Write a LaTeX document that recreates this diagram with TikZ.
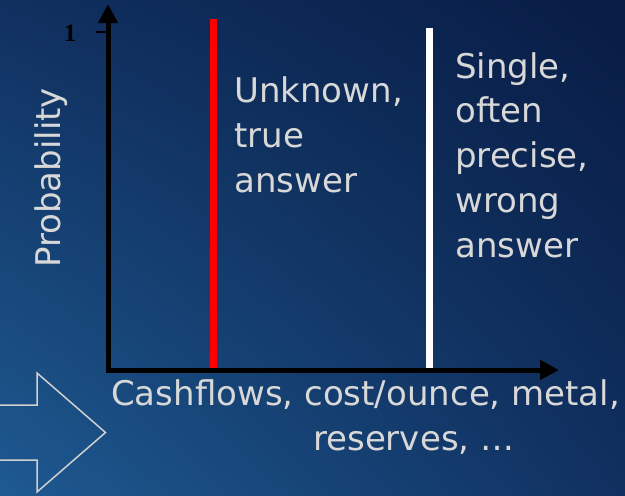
\documentclass[tikz,border=0pt]{standalone}
\usepackage{fontspec}
\setmainfont{DejaVu Sans}
\newfontfamily\tickfont{Liberation Serif}
\usetikzlibrary{arrows.meta,shadings}
\definecolor{navydark}{RGB}{8,28,68}
\definecolor{navymid}{RGB}{16,48,96}
\definecolor{navylight}{RGB}{30,90,145}
\definecolor{labelgrey}{RGB}{216,216,216}
\definecolor{arrowgrey}{RGB}{208,208,208}
\begin{document}
\begin{tikzpicture}[x=1pt,y=-1pt,
		axis/.style={line width=5pt,line cap=rect,-{Triangle[length=19pt,width=19pt]}},
		answer/.style={line width=6.5pt},
		label/.style={text=labelgrey,font=\fontsize{34}{44.7}\selectfont,align=left,inner sep=0pt}]
	\clip (0,0) rectangle (625,496);
	\shade[upper left=navymid, upper right=navydark, lower left=navylight, lower right=navymid] (0,0) rectangle (625,496);
	% axes
	\coordinate (O) at (108,370);
	\coordinate (ytip) at (108,4);
	\coordinate (xtip) at (559,370);
	\coordinate (tick) at (108,32);
	\coordinate (truetop) at (213.5,19);
	\coordinate (wrongtop) at (429.5,28);
	\draw[answer, red] (truetop) -- (truetop |- O);
	\draw[answer, white] (wrongtop) -- (wrongtop |- O);
	\draw[axis] (O) -- (ytip);
	\draw[axis] (O) -- (xtip);
	\draw[line width=2.5pt] (tick) -- ++(-12,0);
	\node[font=\tickfont\bfseries\fontsize{25}{25}\selectfont, inner sep=0pt] (one) at (70,33) {1};
	% labels (base = last line)
	\node[label, rotate=90, anchor=base west, font=\fontsize{34}{40}\selectfont] (prob) at (60,268) {Probability};
	\node[label, anchor=base west] (true) at (234,192) {Unknown,\\true\\answer};
	\node[label, anchor=base west] (wrong) at (455,257) {Single,\\often\\precise,\\wrong\\answer};
	\node[label, anchor=base west] (vars) at (111,405) {Cashflows, cost/ounce, metal,};
	\node[label, anchor=base west] (vars2) at (313,450) {reserves, …};
	% hollow arrow
	\draw[arrowgrey, line width=1.5pt, line join=miter] (-3,405) -- (37,405) -- (37,373) -- (105.5,432.5) -- (37,492) -- (37,460) -- (-3,460);
\end{tikzpicture}
\end{document}
